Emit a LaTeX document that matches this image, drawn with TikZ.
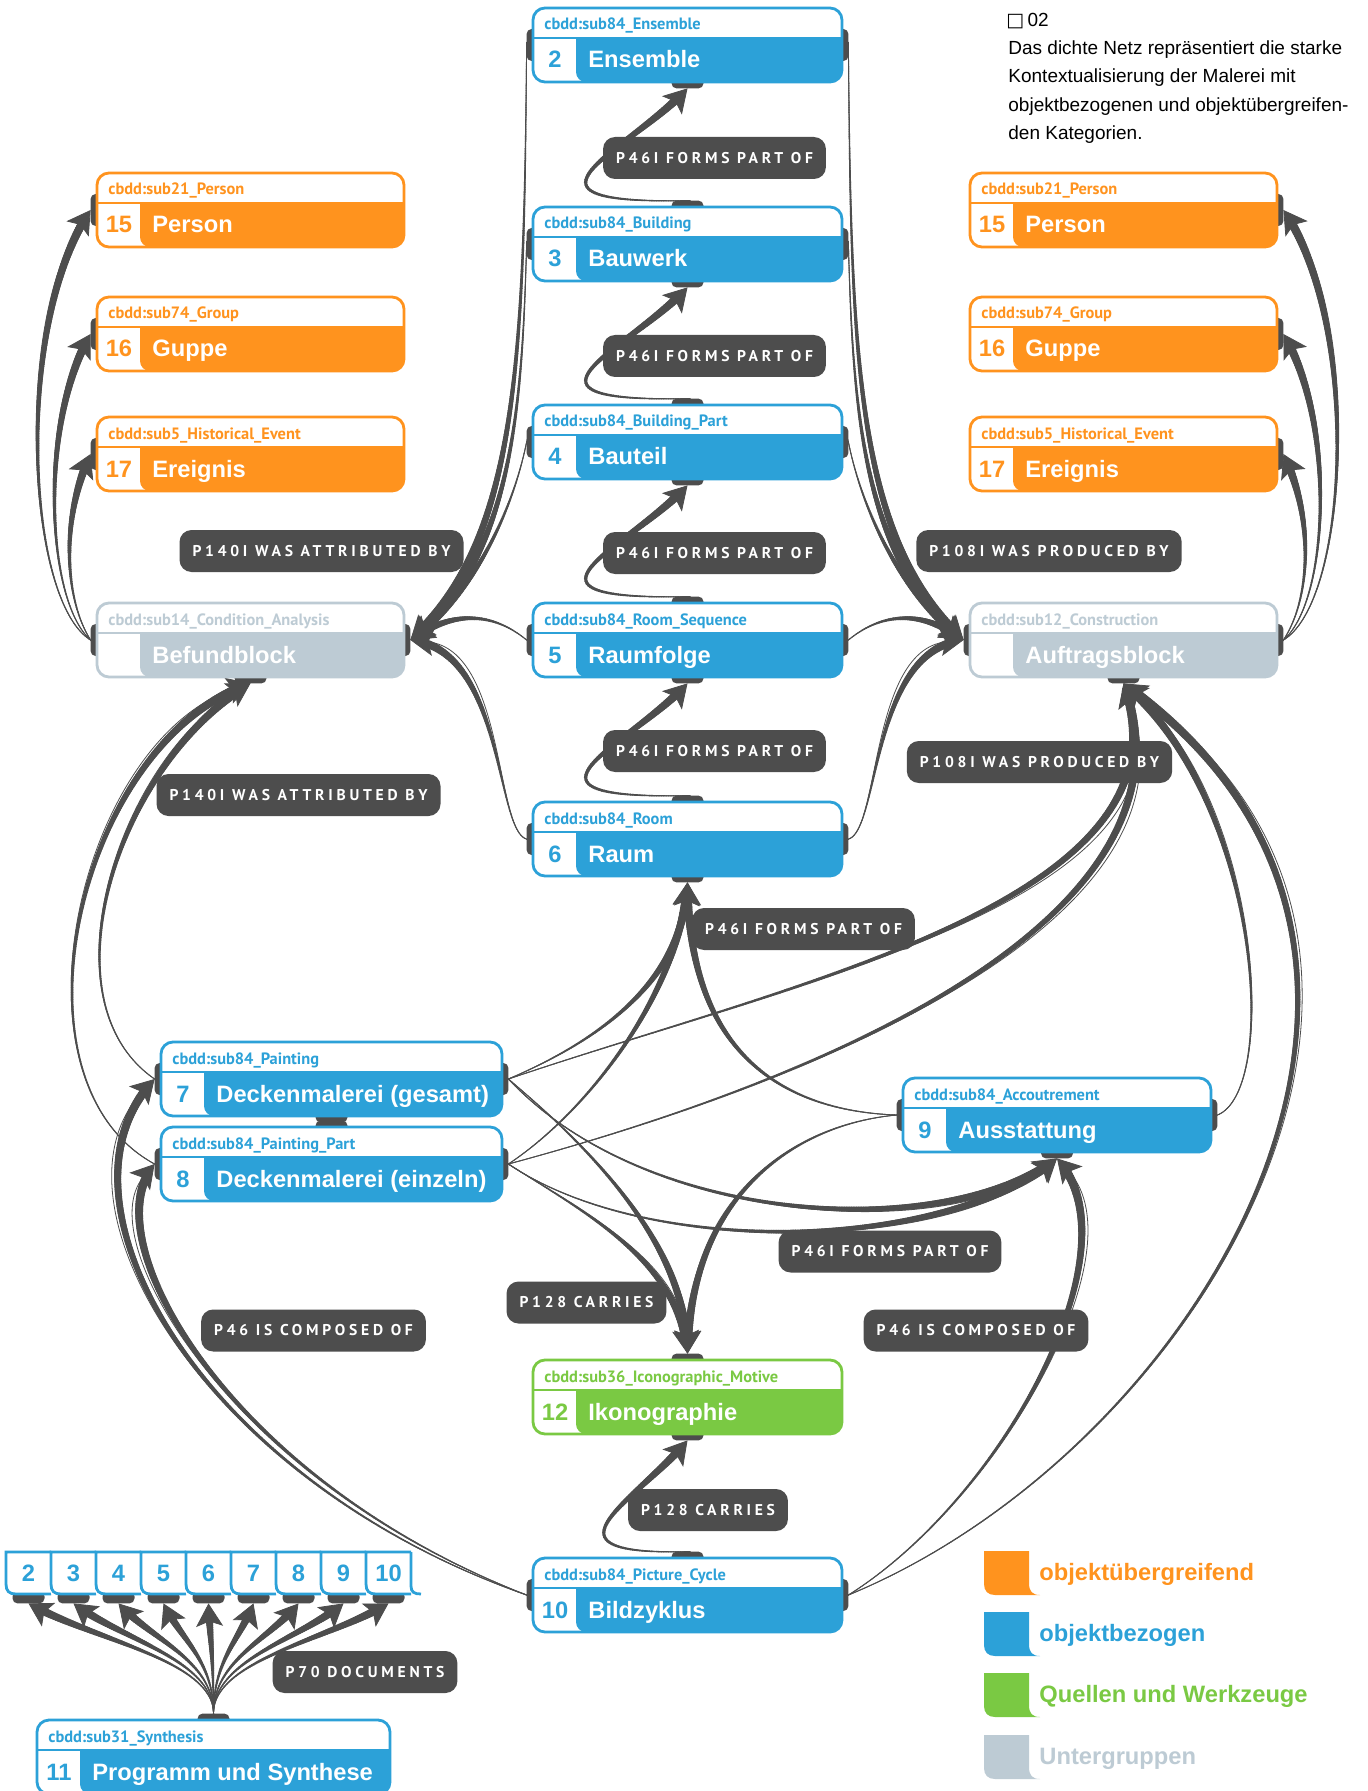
\documentclass[tikz,border=0pt]{standalone}
\usepackage{fontspec}
\setmainfont{Liberation Sans}
\newfontfamily\hdrfam{PT Sans}
\newfontfamily\lblfam{PT Sans}[LetterSpace=24]
\newfontfamily\sqfam{DejaVu Sans}
\usetikzlibrary{arrows.meta,decorations.markings,calc}
\definecolor{cblue}{RGB}{44,161,216}
\definecolor{corange}{RGB}{255,147,30}
\definecolor{cgreen}{RGB}{122,201,67}
\definecolor{cgray}{RGB}{189,203,212}
\definecolor{dark}{RGB}{77,77,77}
\pgfdeclarelayer{bg}
\pgfsetlayers{bg,main}
\tikzset{
 hdr/.style={anchor=base west,inner sep=0pt,font=\hdrfam\bfseries\fontsize{8.2pt}{9pt}\selectfont},
 ttl/.style={anchor=base west,inner sep=0pt,text=white,font=\bfseries\fontsize{11.85pt}{14pt}\selectfont},
 num/.style={anchor=base,inner sep=0pt,font=\bfseries\fontsize{11.85pt}{14pt}\selectfont},
 box/.style={inner sep=0pt,minimum height=43pt,draw=none},
 handle/.style={fill=dark,rounded corners=2.5pt},
 lbl/.style={fill=dark,rounded corners=6pt,text=white,inner xsep=6.5pt,inner ysep=0pt,minimum height=21pt,font=\lblfam\bfseries\fontsize{7.8pt}{9pt}\selectfont},
 desc/.style={anchor=base west,inner sep=0pt,font=\fontsize{9.5pt}{11pt}\selectfont},
 legtxt/.style={anchor=base west,inner sep=0pt,font=\bfseries\fontsize{11.85pt}{14pt}\selectfont},
 edgeT/.style 2 args={draw=dark,line width=0.4pt,-{Stealth[length=11.5pt,width=13.5pt,inset=2.5pt]},
   preaction={decorate,decoration={markings,mark=between positions 0 and -7pt step 1.2pt with {%
     \pgfmathsetmacro\tpf{\pgfkeysvalueof{/pgf/decoration/mark info/distance from start}/\pgfdecoratedpathlength}%
     \pgfmathsetmacro\tpw{2*(#1+(#2-#1)*\tpf*sqrt(\tpf))}%
     \pgfsetlinewidth{\tpw pt}\pgfsetroundcap\pgfsetarrows{-}\pgfsetstrokecolor{dark}%
     \pgfpathmoveto{\pgfpointorigin}\pgfpathlineto{\pgfpoint{-1.4pt}{0pt}}\pgfusepath{stroke}}}}},
 edge/.style={edgeT={0.22}{2.2}},
}
% name, x0, y0, width, colour, header, number, title
\newcommand\catnode[8]{%
 \begin{scope}[shift={(#2,#3)}]
  \fill[white,rounded corners=6pt] (0,0) rectangle (#4,74);
  \fill[#5,rounded corners=5pt] (43,30) rectangle (#4,74);
  \fill[#5] (43,30) rectangle (#4,52);
  \draw[#5,line width=1.4pt,rounded corners=6pt] (0,0) rectangle (#4,74);
  \draw[#5,line width=1.3pt] (0,30) -- (#4,30);
  \node[hdr,text=#5] (#1-h) at (11,22) {#6};
  \node[num,text=#5] (#1-n) at (22,60) {#7};
  \node[ttl] (#1-t) at (55,60) {#8};
  \node[box,minimum width={(#4+12)*0.5pt}] (#1) at ({#4/2},37) {};
 \end{scope}}
\newcommand\hL[1]{\fill[handle] ($(#1.west)+(0,-16)$) rectangle ($(#1.west)+(12,16)$);}
\newcommand\hR[1]{\fill[handle] ($(#1.east)+(-12,-16)$) rectangle ($(#1.east)+(0,16)$);}
\newcommand\hT[1]{\fill[handle] ($(#1.north)+(-16,0)$) rectangle ($(#1.north)+(16,12)$);}
\newcommand\hB[1]{\fill[handle] ($(#1.south)+(-16,-12)$) rectangle ($(#1.south)+(16,0)$);}
% tab: number, x0
\newcommand\tabbox[2]{%
  \fill[white] (#2,1552) rectangle (#2+45,1594);
  \draw[cblue,line width=1.4pt] (#2+45,1552) -- (#2,1552) -- (#2,1584) .. controls (#2,1591) and (#2+3,1594) .. (#2+10,1594) -- (#2+45,1594);
  \node[num,text=cblue] (tn#1) at (#2+22.5,1581) {#1};
  \node[inner sep=0pt,minimum width=22.5pt,minimum height=27pt] (t#1) at (#2+22.5,1576) {};}
\newcommand\legsq[4]{%
  \fill[#2] (984,#3) -- (1029,#3) -- (1029,#3+32) .. controls (1029,#3+40) and (1032,#3+44) .. (1040,#3+44) -- (995,#3+44) .. controls (988,#3+44) and (984,#3+40) .. (984,#3+33) -- cycle;
  \node[legtxt,text=#2] (#1) at (1039,#3+29) {#4};}
\begin{document}
\begin{tikzpicture}[x=0.5pt,y=-0.5pt]
\useasboundingbox (0,0) rectangle (1368,1791);
\begin{pgfonlayer}{bg}
\fill[white] (0,0) rectangle (1368,1791);
\end{pgfonlayer}
% ---------- nodes ----------
\catnode{n2}{533}{8}{309}{cblue}{cbdd:sub84\_Ensemble}{2}{Ensemble}
\catnode{n3}{533}{207}{309}{cblue}{cbdd:sub84\_Building}{3}{Bauwerk}
\catnode{n4}{533}{405}{309}{cblue}{cbdd:sub84\_Building\_Part}{4}{Bauteil}
\catnode{n5}{533}{603}{309}{cblue}{cbdd:sub84\_Room\_Sequence}{5}{Raumfolge}
\catnode{n6}{533}{802}{309}{cblue}{cbdd:sub84\_Room}{6}{Raum}
\catnode{pl}{97}{173}{307}{corange}{cbdd:sub21\_Person}{15}{Person}
\catnode{gl}{97}{297}{307}{corange}{cbdd:sub74\_Group}{16}{Guppe}
\catnode{el}{97}{417}{307}{corange}{cbdd:sub5\_Historical\_Event}{17}{Ereignis}
\catnode{pr}{970}{173}{307}{corange}{cbdd:sub21\_Person}{15}{Person}
\catnode{gr}{970}{297}{307}{corange}{cbdd:sub74\_Group}{16}{Guppe}
\catnode{er}{970}{417}{307}{corange}{cbdd:sub5\_Historical\_Event}{17}{Ereignis}
\catnode{bfb}{97}{603}{307}{cgray}{cbdd:sub14\_Condition\_Analysis}{}{Befundblock}
\catnode{afb}{970}{603}{307}{cgray}{cbdd:sub12\_Construction}{}{Auftragsblock}
\catnode{n7}{161}{1042}{341}{cblue}{cbdd:sub84\_Painting}{7}{Deckenmalerei (gesamt)}
\catnode{n8}{161}{1127}{341}{cblue}{cbdd:sub84\_Painting\_Part}{8}{Deckenmalerei (einzeln)}
\catnode{n9}{903}{1078}{308}{cblue}{cbdd:sub84\_Accoutrement}{9}{Ausstattung}
\catnode{n12}{533}{1360}{309}{cgreen}{cbdd:sub36\_Iconographic\_Motive}{12}{Ikonographie}
\catnode{n10}{533}{1558}{309}{cblue}{cbdd:sub84\_Picture\_Cycle}{10}{Bildzyklus}
\catnode{n11}{37}{1720}{353}{cblue}{cbdd:sub31\_Synthesis}{11}{Programm und Synthese}
\tabbox{2}{6}\tabbox{3}{51}\tabbox{4}{96}\tabbox{5}{141}\tabbox{6}{186}
\tabbox{7}{231}\tabbox{8}{276}\tabbox{9}{321}\tabbox{10}{366}
\draw[cblue,line width=1.4pt] (411,1552) -- (411,1586) .. controls (411,1592) and (414,1594) .. (421,1594);
% ---------- handles and connectors ----------
\begin{pgfonlayer}{bg}
\hL{n2}\hR{n2}\hB{n2}
\foreach \n in {n3,n4,n5,n6}{\hL{\n}\hR{\n}\hT{\n}\hB{\n}}
\hL{pl}\hL{gl}\hL{el}\hR{pr}\hR{gr}\hR{er}
\hL{bfb}\hR{bfb}\hB{bfb}\hL{afb}\hR{afb}\hB{afb}
\hL{n7}\hR{n7}\hB{n7}\hL{n8}\hR{n8}\hT{n8}
\hL{n9}\hR{n9}\hB{n9}\hT{n12}\hB{n12}\hL{n10}\hR{n10}\hT{n10}\hT{n11}
\foreach \i in {2,...,10}{\hB{t\i}}
% chain P46i
\draw[edge] (n3.north) .. controls +(-197,4) and +(-57,62) .. (n2.south);
\draw[edge] (n4.north) .. controls +(-197,4) and +(-57,62) .. (n3.south);
\draw[edge] (n5.north) .. controls +(-197,4) and +(-57,62) .. (n4.south);
\draw[edge] (n6.north) .. controls +(-197,4) and +(-57,62) .. (n5.south);
\draw[edge] (n10.north) .. controls +(-160,4) and +(-50,60) .. (n12.south);
% into Raum
\draw[edge] (n7.east) .. controls (600,1040) and (684,980) .. (n6.south);
\draw[edge] (n8.east) .. controls (590,1110) and (680,990) .. (n6.south);
\draw[edge] (n9.west) .. controls (760,1110) and (688,1030) .. (n6.south);
% into Befundblock
\draw[edge] (n2.west) .. controls (524,350) and (520,540) .. (bfb.east);
\draw[edge] (n3.west) .. controls (522,420) and (510,560) .. (bfb.east);
\draw[edge] (n4.west) .. controls (515,500) and (480,590) .. (bfb.east);
\draw[edge] (n5.west) .. controls (490,610) and (450,612) .. (bfb.east);
\draw[edge] (n6.west) .. controls (495,830) and (505,650) .. (bfb.east);
% into Auftragsblock
\draw[edge] (n2.east) .. controls (851,350) and (855,540) .. (afb.west);
\draw[edge] (n3.east) .. controls (853,420) and (865,560) .. (afb.west);
\draw[edge] (n4.east) .. controls (860,500) and (895,590) .. (afb.west);
\draw[edge] (n5.east) .. controls (885,610) and (925,612) .. (afb.west);
\draw[edge] (n6.east) .. controls (880,830) and (870,650) .. (afb.west);
% Befundblock / Auftragsblock to persons, groups, events
\draw[edge] (bfb.west) .. controls (25,600) and (15,320) .. (pl.west);
\draw[edge] (bfb.west) .. controls (45,600) and (40,420) .. (gl.west);
\draw[edge] (bfb.west) .. controls (65,600) and (60,520) .. (el.west);
\draw[edge] (afb.east) .. controls (1350,600) and (1360,320) .. (pr.east);
\draw[edge] (afb.east) .. controls (1330,600) and (1335,420) .. (gr.east);
\draw[edge] (afb.east) .. controls (1310,600) and (1315,520) .. (er.east);
% into Befundblock bottom
\draw[edge] (n7.west) .. controls (40,1000) and (120,760) .. (bfb.south);
\draw[edge] (n8.west) .. controls (0,1080) and (80,740) .. (bfb.south);
% into Auftragsblock bottom
\draw[edge] (n7.east) .. controls (800,980) and (1200,900) .. (afb.south);
\draw[edge] (n8.east) .. controls (820,1080) and (1210,920) .. (afb.south);
\draw[edge] (n9.east) .. controls (1280,1090) and (1260,800) .. (afb.south);
\draw[edge] (n10.east) .. controls (1200,1450) and (1500,950) .. (afb.south);
% into Ikonographie
\draw[edge] (n7.east) .. controls (580,1140) and (687,1240) .. (n12.north);
\draw[edge] (n8.east) .. controls (580,1210) and (680,1260) .. (n12.north);
\draw[edge] (n9.west) .. controls (790,1125) and (690,1200) .. (n12.north);
% into Ausstattung
\draw[edge] (n7.east) .. controls (650,1230) and (950,1240) .. (n9.south);
\draw[edge] (n8.east) .. controls (650,1260) and (950,1250) .. (n9.south);
\draw[edge] (n10.east) .. controls (1000,1500) and (1140,1250) .. (n9.south);
% into Deckenmalerei
\draw[edge] (n10.west) .. controls (200,1480) and (40,1200) .. (n7.west);
\draw[edge] (n10.west) .. controls (230,1480) and (90,1240) .. (n8.west);
% P70 documents
\foreach \i/\x in {2/28.5,3/73.5,4/118.5,5/163.5,6/208.5,7/253.5,8/298.5,9/343.5,10/388.5}{
  \draw[edge] (n11.north) .. controls (213.5,1660) and ({\x+(213.5-\x)*0.35},1640) .. (t\i.south);}
\end{pgfonlayer}
% ---------- labels ----------
\node[lbl] (l1) at (714.5,158) {P46I FORMS PART OF};
\node[lbl] (l2) at (714.5,356) {P46I FORMS PART OF};
\node[lbl] (l3) at (714.5,553) {P46I FORMS PART OF};
\node[lbl] (l4) at (714.5,751) {P46I FORMS PART OF};
\node[lbl] (l5) at (803.5,929) {P46I FORMS PART OF};
\node[lbl] (l6) at (321.5,551) {P140I WAS ATTRIBUTED BY};
\node[lbl] (l7) at (1049,551) {P108I WAS PRODUCED BY};
\node[lbl] (l8) at (298.5,795) {P140I WAS ATTRIBUTED BY};
\node[lbl] (l9) at (1039.5,762) {P108I WAS PRODUCED BY};
\node[lbl] (l10) at (890,1251.5) {P46I FORMS PART OF};
\node[lbl] (l11) at (586.5,1302.5) {P128 CARRIES};
\node[lbl] (l12) at (313.5,1330.5) {P46 IS COMPOSED OF};
\node[lbl] (l13) at (976,1330.5) {P46 IS COMPOSED OF};
\node[lbl] (l14) at (708,1510) {P128 CARRIES};
\node[lbl] (l15) at (365,1672) {P70 DOCUMENTS};
% ---------- description ----------
\node[desc] (d0) at (1006,27) {{\sqfam □}\,02};
\node[desc] (d1) at (1008,55) {Das dichte Netz repräsentiert die starke};
\node[desc] (d2) at (1008,83) {Kontextualisierung der Malerei mit};
\node[desc] (d3) at (1008,112) {objektbezogenen und objektübergreifen-};
\node[desc] (d4) at (1008,140) {den Kategorien.};
% ---------- legend ----------
\legsq{lg1}{corange}{1551}{objektübergreifend}
\legsq{lg2}{cblue}{1612}{objektbezogen}
\legsq{lg3}{cgreen}{1673}{Quellen und Werkzeuge}
\legsq{lg4}{cgray}{1735}{Untergruppen}
\end{tikzpicture}
\end{document}
